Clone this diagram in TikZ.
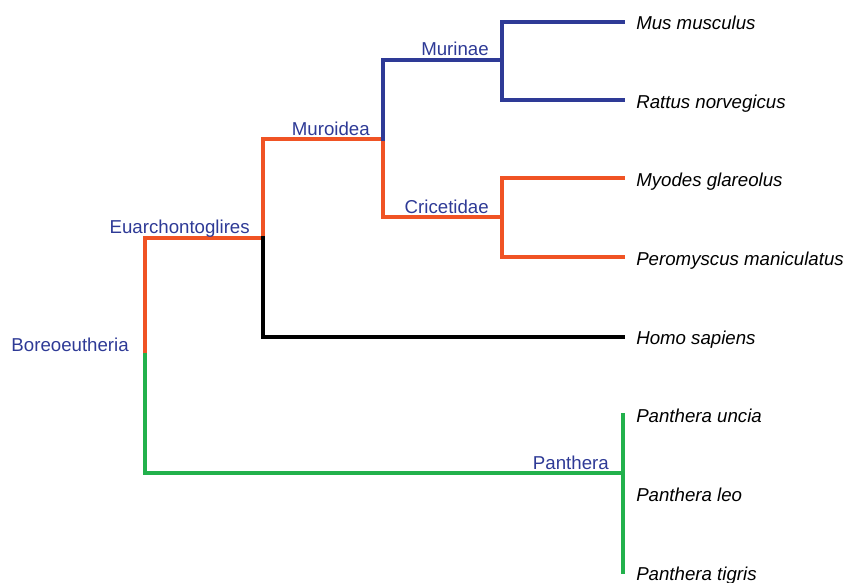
\documentclass[tikz,border=0pt]{standalone}
\usepackage{fontspec}
\setmainfont{Liberation Sans}
\definecolor{cladeblue}{HTML}{2E3A96}
\definecolor{branchorange}{HTML}{F05324}
\definecolor{branchgreen}{HTML}{22B14C}
\begin{document}
\begin{tikzpicture}[x=0.75pt,y=-0.75pt,
  branch/.style={line width=3pt,line join=miter,line cap=rect},
  species/.style={anchor=base west,inner sep=0pt,font=\fontsize{14pt}{16pt}\selectfont\itshape},
  clade/.style={anchor=base east,inner sep=0pt,text=cladeblue,font=\fontsize{14pt}{16pt}\selectfont}]
\useasboundingbox (0,0) rectangle (845,582);

% internal nodes of the tree
\coordinate (rootmid) at (145,355);
\coordinate (boreoTop) at (145,238);
\coordinate (boreoBot) at (145,473);
\coordinate (euar) at (263,238);
\coordinate (euarTop) at (263,139);
\coordinate (euarBot) at (263,337);
\coordinate (muro) at (383,139);
\coordinate (muroTop) at (383,60);
\coordinate (muroBot) at (383,217);
\coordinate (murinae) at (502,60);
\coordinate (murTop) at (502,22);
\coordinate (murBot) at (502,100);
\coordinate (cric) at (502,217);
\coordinate (cricTop) at (502,178);
\coordinate (cricBot) at (502,257);
\coordinate (panth) at (623,473);
\coordinate (panthTop) at (623,415);
\coordinate (panthBot) at (623,572);

% leaf tips
\coordinate (tipMus) at (623,22);
\coordinate (tipRat) at (623,100);
\coordinate (tipMyo) at (623,178);
\coordinate (tipPer) at (623,257);
\coordinate (tipHom) at (623,337);

% branches
\draw[branch,branchorange] (rootmid) -- (boreoTop) -- (euar) -- (euarTop) -- (muro) -- (muroBot) -- (cric);
\draw[branch,branchorange] (cricTop) -- (cricBot);
\draw[branch,branchorange] (cricTop) -- (tipMyo);
\draw[branch,branchorange] (cricBot) -- (tipPer);
\draw[branch,black] (euar) -- (euarBot) -- (tipHom);
\draw[branch,cladeblue] (muro) -- (muroTop) -- (murinae);
\draw[branch,cladeblue] (murTop) -- (murBot);
\draw[branch,cladeblue] (murTop) -- (tipMus);
\draw[branch,cladeblue] (murBot) -- (tipRat);
\draw[branch,branchgreen] (rootmid) -- (boreoBot) -- (panth);
\draw[branch,branchgreen] (panthTop) -- (panthBot);

% clade labels
\node[clade] (lBoreo) at (129,351) {Boreoeutheria};
\node[clade] (lEuar) at (250,233) {Euarchontoglires};
\node[clade] (lMuro) at (370,135) {Muroidea};
\node[clade] (lMurinae) at (489,55) {Murinae};
\node[clade] (lCric) at (489,213) {Cricetidae};
\node[clade] (lPanth) at (609,469) {Panthera};

% species labels
\node[species] (sMus) at (636,29) {Mus musculus};
\node[species] (sRat) at (636,108) {Rattus norvegicus};
\node[species] (sMyo) at (636,186) {Myodes glareolus};
\node[species] (sPer) at (636,265) {Peromyscus maniculatus};
\node[species] (sHom) at (636,344) {Homo sapiens};
\node[species] (sUnc) at (636,422) {Panthera uncia};
\node[species] (sLeo) at (636,501) {Panthera leo};
\node[species] (sTig) at (636,580) {Panthera tigris};
\end{tikzpicture}
\end{document}
